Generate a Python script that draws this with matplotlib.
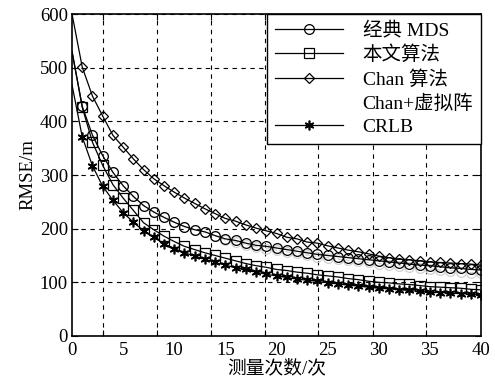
import matplotlib
matplotlib.use("Agg")
import matplotlib.pyplot as plt

# 测量次数
n_meas = list(range(0, 41))

# RMSE 数据
mds = [530, 428, 374, 336, 305, 280, 260, 243, 231, 221, 212, 204, 198, 194, 187,
       181, 178, 173, 169, 167, 164, 161, 158, 155, 152, 150, 148, 146, 144, 142,
       140, 138, 136, 134, 132, 131, 129, 127, 126, 124, 123]
proposed = [530, 426, 361, 318, 282, 257, 234, 211, 198, 186, 176, 167, 161, 155, 150,
            145, 140, 135, 131, 128, 124, 122, 119, 117, 114, 112, 110, 107, 105, 102,
            100, 99, 97, 96, 94, 92, 91, 90, 89, 87, 86]
chan = [600, 501, 447, 410, 374, 352, 330, 310, 293, 280, 268, 257, 247, 237, 228,
        219, 214, 207, 201, 196, 191, 184, 181, 175, 173, 168, 164, 160, 157, 153,
        149, 146, 143, 142, 140, 138, 137, 136, 135, 134, 132]
chan_virtual = [530, 428, 374, 336, 305, 280, 260, 243, 231, 221, 212, 204, 198, 194, 187,
                179, 175, 170, 166, 163, 160, 157, 154, 151, 148, 146, 143, 141, 139, 137,
                135, 133, 131, 129, 127, 125, 123, 122, 120, 118, 117]
crlb = [468, 371, 317, 279, 253, 230, 212, 196, 184, 172, 163, 155, 149, 143, 137,
        132, 127, 124, 119, 115, 112, 109, 106, 104, 102, 99, 97, 95, 93, 91,
        89, 88, 86, 85, 83, 82, 81, 80, 79, 78, 77]

x_ticks = [0, 5, 10, 15, 20, 25, 30, 35, 40]
y_ticks = [0, 100, 200, 300, 400, 500, 600]
x_grid = [3.0, 8.3, 13.6, 18.9, 24.1, 29.4, 34.6]  # 原图竖直网格线位置

plt.rcParams['font.family'] = ['Liberation Serif', 'Noto Sans CJK SC']
plt.rcParams['font.size'] = 13.5

fig = plt.figure(figsize=(4.95, 3.85), dpi=100)
ax = fig.add_axes([0.1455, 0.1273, 0.8262, 0.8363])

style = dict(color='black', linewidth=0.9, markersize=7, markerfacecolor='none',
             markeredgewidth=0.9, markevery=slice(1, None))
ax.plot(n_meas, chan_virtual, linestyle='--', marker='o', label='_nolegend_',
        **{**style, 'color': '0.82'})
ax.plot(n_meas, mds, marker='o', label='经典 MDS', **style)
ax.plot(n_meas, proposed, marker='s', label='本文算法', **{**style, 'markersize': 6.5})
ax.plot(n_meas, chan, marker='D', label='Chan 算法', **{**style, 'markersize': 5.5})
ax.plot(n_meas, crlb, marker=(6, 2, 0), label='CRLB',
        **{**style, 'markersize': 7, 'markeredgewidth': 1.2})

ax.set_xlim(0, 40)
ax.set_ylim(0, 600)
ax.set_xticks(x_ticks)
ax.set_xticks(x_grid, minor=True)
ax.set_yticks(y_ticks)
ax.tick_params(axis='x', which='major', length=0, pad=4)
ax.tick_params(axis='x', which='minor', direction='in', length=4, width=0.8, top=True)
ax.tick_params(axis='y', direction='in', length=4, width=0.8, right=True, pad=3)

ax.grid(axis='x', which='minor', color='black', linestyle=(0, (4, 4)), linewidth=0.8)
ax.grid(axis='y', which='major', color='black', linestyle=(0, (4, 4)), linewidth=0.8)
for s in ax.spines.values():
    s.set_linewidth(1.2)

ax.set_xlabel('测量次数/次', labelpad=1)
ax.set_ylabel('RMSE/m', labelpad=2)

# 图例 (Chan+虚拟阵 这一项的线在原图里看不见)
handles, labels = ax.get_legend_handles_labels()
ghost, = ax.plot([], [], color='white', label='Chan+虚拟阵')
handles = handles[:3] + [ghost] + handles[3:]
labels = labels[:3] + ['Chan+虚拟阵'] + labels[3:]
leg = ax.legend(handles, labels, loc='upper right', borderaxespad=0, fancybox=False,
                framealpha=1, edgecolor='black', handlelength=3.5, handletextpad=1.0,
                labelspacing=0.3, borderpad=0.4, fontsize=14)
leg.get_frame().set_linewidth(1.0)

fig.savefig('out.png', dpi=100)
